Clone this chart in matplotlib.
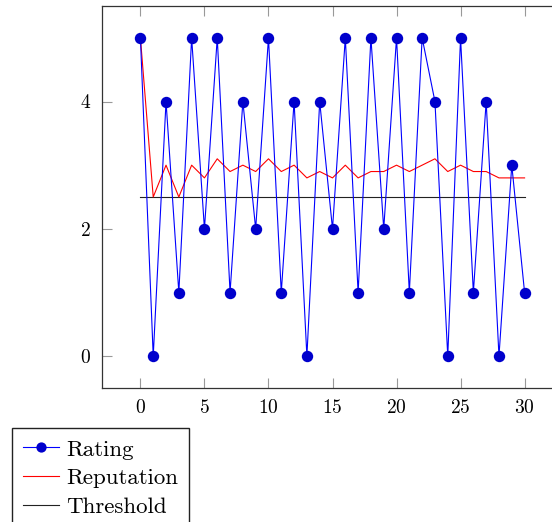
import numpy as np
import matplotlib
matplotlib.use('Agg')
import matplotlib.pyplot as plt

plt.rcParams['font.family'] = 'cmr10'
plt.rcParams['axes.formatter.use_mathtext'] = True

# data
steps = list(range(31))
rating = [5, 0, 4, 1, 5, 2, 5, 1, 4, 2, 5, 1, 4, 0, 4, 2,
          5, 1, 5, 2, 5, 1, 5, 4, 0, 5, 1, 4, 0, 3, 1]
reputation = [5.0, 2.5, 3.0, 2.5, 3.0, 2.8, 3.1, 2.9, 3.0, 2.9, 3.1, 2.9, 3.0, 2.8, 2.9, 2.8,
              3.0, 2.8, 2.9, 2.9, 3.0, 2.9, 3.0, 3.1, 2.9, 3.0, 2.9, 2.9, 2.8, 2.8, 2.8]
threshold = [2.5] * len(steps)
xticks = [0, 5, 10, 15, 20, 25, 30]
yticks = [0, 2, 4]

W, H = 552, 522
fig = plt.figure(figsize=(W/100, H/100), dpi=100)
# axes run slightly past the right border, as in the reference
ax = fig.add_axes([102/W, 1-388/H, (563-102)/W, (388-6)/H])

ax.plot(steps, rating, color='#0000ff', lw=0.8, marker='o', ms=8.2, mew=0,
        mfc='#0000cc', label='Rating', zorder=3)
ax.plot(steps, reputation, color='#ff0000', lw=0.8, label='Reputation', zorder=2)
ax.plot(steps, threshold, color='#222222', lw=0.8, label='Threshold', zorder=1)

ax.set_xlim(-3, 33)
ax.set_ylim(-0.5, 5.5)
ax.set_xticks(xticks)
ax.set_yticks(yticks)
ax.tick_params(direction='in', length=7, width=0.8, color='#999999',
               top=True, right=True, labelsize=14, pad=8)
for s in ax.spines.values():
    s.set_color('#333333')
    s.set_linewidth(0.9)

ax.legend(loc='upper left', bbox_to_anchor=(12/W, 1-428/H),
          bbox_transform=fig.transFigure, fontsize=16.5, frameon=True,
          fancybox=False, edgecolor='#222222', framealpha=1,
          handlelength=1.55, handletextpad=0.3, labelspacing=0.38,
          borderpad=0.5, borderaxespad=0, markerscale=0.9)

fig.savefig('out.png', dpi=100)
